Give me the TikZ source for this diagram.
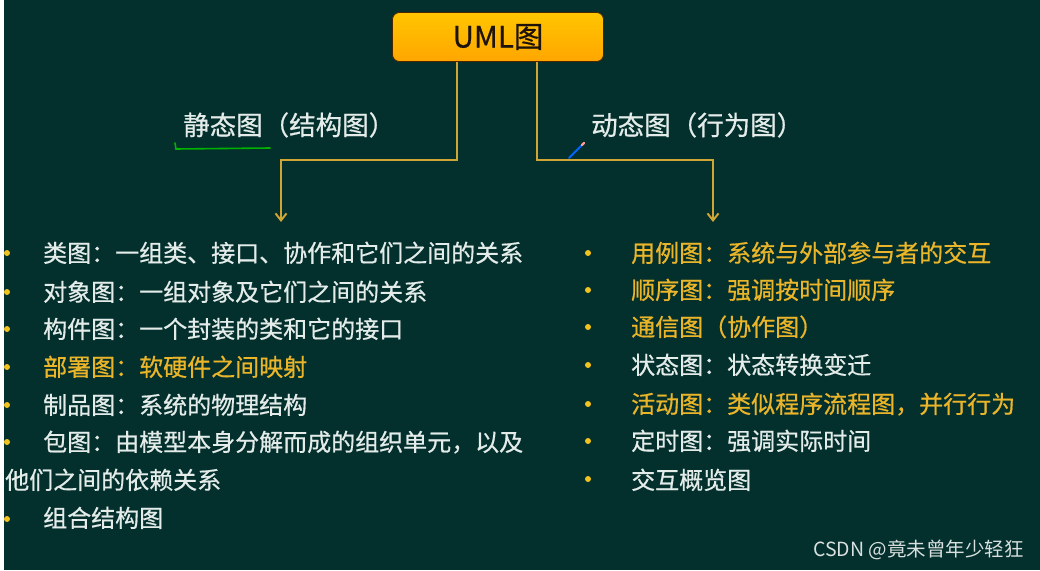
\documentclass[tikz,border=0pt]{standalone}
\usepackage{fontspec}
\usetikzlibrary{arrows.meta}
\newfontfamily\cjk{Noto Sans CJK SC}
\newfontfamily\cjkb[FakeBold=0.6]{Noto Sans CJK SC}
\definecolor{bg}{HTML}{03302D}
\definecolor{txtw}{HTML}{E4ECEA}
\definecolor{txtg}{HTML}{EBB52A}
\definecolor{lineg}{HTML}{CFA536}
\definecolor{dotg}{HTML}{F2C21E}
\tikzset{
  item/.style={anchor=base west, inner sep=0pt, font=\cjkb\fontsize{24}{24}\selectfont, text=txtw},
  hot/.style={item, text=txtg},
  head/.style={anchor=base west, inner sep=0pt, font=\cjkb\fontsize{26.5}{26.5}\selectfont, text=txtw},
  conn/.style={draw=lineg, line width=2pt, -{Straight Barb[length=7pt,width=11pt,line width=2pt]}},
  dot/.style={circle, fill=dotg, inner sep=0pt, minimum size=6pt},
}
\begin{document}
\begin{tikzpicture}[x=1pt,y=-1pt]
\useasboundingbox (0,0) rectangle (1040,570);
\fill[white] (0,0) rectangle (1040,570);
\fill[bg] (4,0) rectangle (1040,570);

% title box
\node[rounded corners=7pt, draw=black!70!orange, line width=0.8pt, top color=yellow!55!orange, bottom color=orange!70!yellow,
      minimum width=211pt, minimum height=49pt, inner sep=0pt,
      font=\cjkb\fontsize{29.5}{29.5}\selectfont, text=black!85!brown] (uml) at (498,37) {UML图};

% connectors
\coordinate (la) at (281,222);
\coordinate (ra) at (713,222);
\draw[conn] ([xshift=-41pt]uml.south) -- ++(0,98) -| (la);
\draw[conn] ([xshift=39pt]uml.south) -- ++(0,98) -| (ra);

% headings
\node[head] (st) at (183,135) {静态图（结构图）};
\node[head] (dy) at (591,135) {动态图（行为图）};
\draw[green!70!black, line width=1.6pt, line cap=round] (175,143) -- (176,149) -- (270,148);
\draw[blue!60!cyan, line width=2pt, line cap=round] (569,158) -- (582,145);
\draw[pink!80!red, line width=2.4pt, line cap=round] (582,145) -- (584,143);

% left list
\node[dot] (lb1) at (7,253) {};
\node[item] (l1) at (43,262) {类图：一组类、接口、协作和它们之间的关系};
\node[dot] (lb2) at (7,292) {};
\node[item] (l2) at (43,301) {对象图：一组对象及它们之间的关系};
\node[dot] (lb3) at (7,329) {};
\node[item] (l3) at (43,338) {构件图：一个封装的类和它的接口};
\node[dot] (lb4) at (7,367) {};
\node[hot]  (l4) at (43,376) {部署图：软硬件之间映射};
\node[dot] (lb5) at (7,405) {};
\node[item] (l5) at (43,414) {制品图：系统的物理结构};
\node[dot] (lb6) at (7,442) {};
\node[item] (l6) at (43,451) {包图：由模型本身分解而成的组织单元，以及};
\node[item] (l6b) at (5,489) {他们之间的依赖关系};
\node[dot] (lb7) at (7,519) {};
\node[item] (l7) at (43,527) {组合结构图};

% right list
\node[dot] (rb1) at (588,253) {};
\node[hot]  (r1) at (631,262) {用例图：系统与外部参与者的交互};
\node[dot] (rb2) at (588,290) {};
\node[hot]  (r2) at (631,299) {顺序图：强调按时间顺序};
\node[dot] (rb3) at (588,327) {};
\node[hot]  (r3) at (631,336) {通信图（协作图）};
\node[dot] (rb4) at (588,365) {};
\node[item] (r4) at (631,374) {状态图：状态转换变迁};
\node[dot] (rb5) at (588,404) {};
\node[hot]  (r5) at (631,413) {活动图：类似程序流程图，并行行为};
\node[dot] (rb6) at (588,441) {};
\node[item] (r6) at (631,450) {定时图：强调实际时间};
\node[dot] (rb7) at (588,479) {};
\node[item] (r7) at (631,489) {交互概览图};

% watermark
\node[anchor=base west, inner sep=0pt, font=\cjk\fontsize{19.5}{19.5}\selectfont, text=white!85!bg] (wm) at (813,556) {CSDN @竟未曾年少轻狂};
\end{tikzpicture}
\end{document}
